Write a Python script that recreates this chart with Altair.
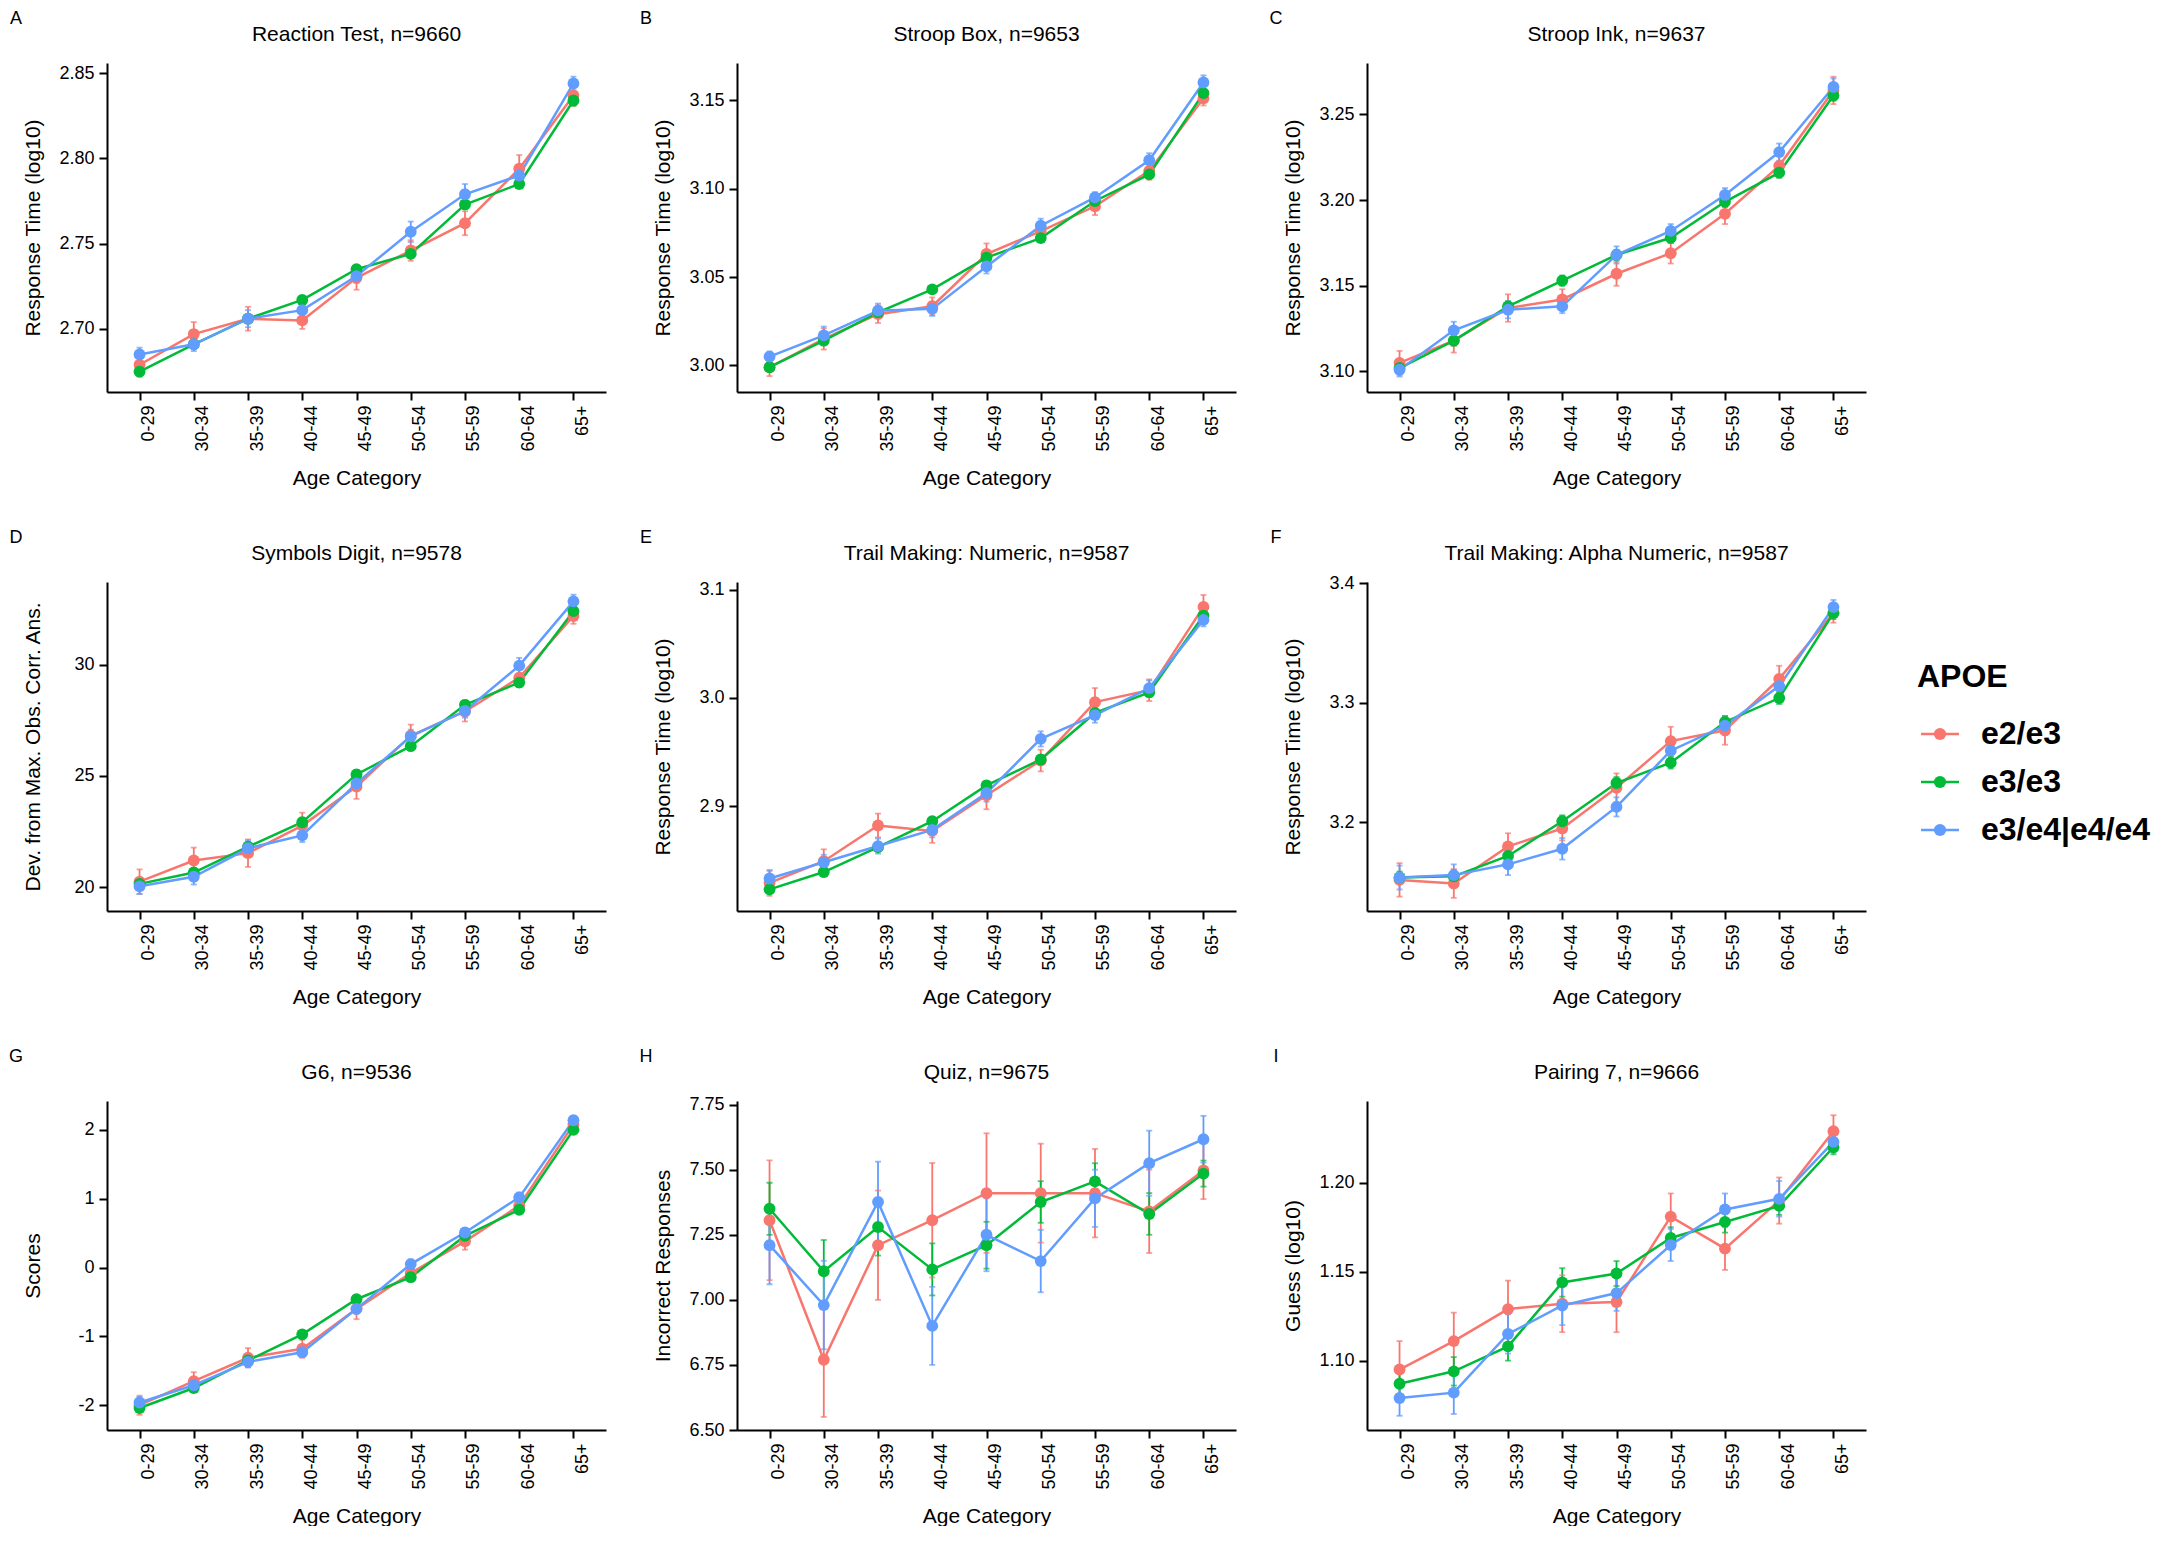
import altair as alt
import pandas as pd

FONT = "Liberation Sans"
AGES = ["0-29", "30-34", "35-39", "40-44", "45-49", "50-54", "55-59", "60-64", "65+"]
GROUPS = ["e2/e3", "e3/e3", "e3/e4|e4/e4"]
COLORS = ["#F8766D", "#00BA38", "#619CFF"]
LEGEND_TITLE = "APOE"

LETTERS = ["A", "B", "C", "D", "E", "F", "G", "H", "I"]
TITLES = ["Reaction Test, n=9660", "Stroop Box, n=9653", "Stroop Ink, n=9637",
          "Symbols Digit, n=9578", "Trail Making: Numeric, n=9587",
          "Trail Making: Alpha Numeric, n=9587", "G6, n=9536", "Quiz, n=9675",
          "Pairing 7, n=9666"]
Y_TITLES = ["Response Time (log10)", "Response Time (log10)", "Response Time (log10)",
            "Dev. from Max. Obs. Corr. Ans.", "Response Time (log10)",
            "Response Time (log10)", "Scores", "Incorrect Responses", "Guess (log10)"]
Y_DOMAINS = [[2.663, 2.856], [2.985, 3.171], [3.088, 3.280],
             [18.93, 33.72], [2.803, 3.107], [3.126, 3.401],
             [-2.36, 2.42], [6.50, 7.764], [1.061, 1.246]]
Y_TICKS = [[2.70, 2.75, 2.80, 2.85], [3.00, 3.05, 3.10, 3.15], [3.10, 3.15, 3.20, 3.25],
           [20, 25, 30], [2.9, 3.0, 3.1], [3.2, 3.3, 3.4],
           [-2, -1, 0, 1, 2], [6.50, 6.75, 7.00, 7.25, 7.50, 7.75], [1.10, 1.15, 1.20]]
Y_FORMATS = [".2f", ".2f", ".2f", "d", ".1f", ".1f", "d", ".2f", ".2f"]

# means per group: [e2/e3, e3/e3, e3/e4|e4/e4]
A_MEANS = [[2.679, 2.697, 2.706, 2.705, 2.730, 2.746, 2.762, 2.794, 2.837],
           [2.675, 2.691, 2.706, 2.717, 2.735, 2.744, 2.773, 2.785, 2.834],
           [2.685, 2.691, 2.706, 2.711, 2.731, 2.757, 2.779, 2.790, 2.844]]
A_SES = [[0.006, 0.007, 0.007, 0.005, 0.007, 0.006, 0.007, 0.008, 0.006],
         [0.003, 0.002, 0.002, 0.002, 0.002, 0.002, 0.002, 0.002, 0.003],
         [0.004, 0.004, 0.005, 0.004, 0.004, 0.006, 0.006, 0.005, 0.004]]
B_MEANS = [[2.999, 3.015, 3.029, 3.0335, 3.063, 3.076, 3.090, 3.110, 3.151],
           [2.999, 3.014, 3.030, 3.043, 3.061, 3.072, 3.093, 3.108, 3.154],
           [3.005, 3.017, 3.031, 3.032, 3.056, 3.079, 3.095, 3.116, 3.160]]
B_SES = [[0.005, 0.006, 0.005, 0.005, 0.006, 0.005, 0.005, 0.005, 0.004],
         [0.002, 0.002, 0.002, 0.002, 0.002, 0.002, 0.002, 0.002, 0.002],
         [0.003, 0.005, 0.004, 0.004, 0.004, 0.004, 0.003, 0.004, 0.004]]
C_MEANS = [[3.105, 3.118, 3.137, 3.142, 3.157, 3.169, 3.192, 3.220, 3.264],
           [3.102, 3.118, 3.138, 3.153, 3.168, 3.178, 3.199, 3.216, 3.261],
           [3.101, 3.124, 3.136, 3.138, 3.168, 3.182, 3.203, 3.228, 3.266]]
C_SES = [[0.007, 0.007, 0.008, 0.006, 0.007, 0.006, 0.006, 0.006, 0.008],
         [0.003, 0.003, 0.003, 0.003, 0.003, 0.003, 0.003, 0.003, 0.003],
         [0.004, 0.005, 0.005, 0.004, 0.005, 0.004, 0.004, 0.005, 0.005]]
D_MEANS = [[20.25, 21.20, 21.53, 22.77, 24.52, 26.81, 27.90, 29.42, 32.19],
           [20.15, 20.66, 21.82, 22.92, 25.07, 26.34, 28.20, 29.20, 32.41],
           [20.04, 20.47, 21.75, 22.33, 24.66, 26.78, 27.92, 29.96, 32.85]]
D_SES = [[0.55, 0.58, 0.62, 0.58, 0.55, 0.50, 0.45, 0.40, 0.35],
         [0.20, 0.20, 0.20, 0.20, 0.20, 0.20, 0.20, 0.20, 0.20],
         [0.35, 0.35, 0.35, 0.30, 0.30, 0.30, 0.30, 0.35, 0.30]]
E_MEANS = [[2.829, 2.849, 2.882, 2.877, 2.910, 2.942, 2.996, 3.007, 3.084],
           [2.823, 2.839, 2.862, 2.886, 2.919, 2.943, 2.986, 3.005, 3.076],
           [2.833, 2.848, 2.863, 2.878, 2.912, 2.962, 2.984, 3.009, 3.072]]
E_SES = [[0.012, 0.011, 0.011, 0.011, 0.013, 0.010, 0.013, 0.010, 0.011],
         [0.004, 0.004, 0.004, 0.004, 0.004, 0.004, 0.004, 0.004, 0.004],
         [0.007, 0.007, 0.007, 0.007, 0.008, 0.007, 0.007, 0.007, 0.006]]
F_MEANS = [[3.152, 3.149, 3.180, 3.195, 3.229, 3.268, 3.277, 3.320, 3.375],
           [3.154, 3.155, 3.172, 3.201, 3.233, 3.250, 3.284, 3.304, 3.375],
           [3.154, 3.156, 3.165, 3.178, 3.213, 3.260, 3.281, 3.314, 3.380]]
F_SES = [[0.014, 0.012, 0.011, 0.010, 0.012, 0.012, 0.012, 0.011, 0.008],
         [0.005, 0.005, 0.005, 0.005, 0.005, 0.005, 0.005, 0.005, 0.005],
         [0.010, 0.009, 0.009, 0.009, 0.008, 0.008, 0.008, 0.007, 0.006]]
G_MEANS = [[-2.00, -1.65, -1.31, -1.18, -0.60, -0.08, 0.38, 0.90, 2.08],
           [-2.04, -1.75, -1.35, -0.97, -0.46, -0.14, 0.46, 0.84, 2.00],
           [-1.96, -1.71, -1.37, -1.23, -0.60, 0.05, 0.51, 1.02, 2.14]]
G_SES = [[0.14, 0.13, 0.14, 0.13, 0.15, 0.12, 0.12, 0.10, 0.08],
         [0.04, 0.04, 0.04, 0.04, 0.04, 0.04, 0.04, 0.04, 0.04],
         [0.08, 0.08, 0.08, 0.07, 0.07, 0.07, 0.06, 0.07, 0.06]]
H_MEANS = [[7.306, 6.770, 7.210, 7.306, 7.410, 7.410, 7.410, 7.340, 7.497],
           [7.350, 7.110, 7.280, 7.117, 7.210, 7.376, 7.455, 7.330, 7.485],
           [7.210, 6.980, 7.376, 6.900, 7.250, 7.149, 7.390, 7.525, 7.617]]
H_SES = [[0.23, 0.22, 0.21, 0.22, 0.23, 0.19, 0.17, 0.16, 0.11],
         [0.10, 0.12, 0.11, 0.10, 0.09, 0.08, 0.07, 0.08, 0.05],
         [0.15, 0.17, 0.155, 0.15, 0.14, 0.12, 0.11, 0.125, 0.09]]
I_MEANS = [[1.095, 1.111, 1.129, 1.132, 1.133, 1.181, 1.163, 1.190, 1.229],
           [1.087, 1.094, 1.108, 1.144, 1.149, 1.169, 1.178, 1.187, 1.220],
           [1.079, 1.082, 1.115, 1.131, 1.138, 1.165, 1.185, 1.191, 1.223]]
I_SES = [[0.016, 0.016, 0.016, 0.016, 0.017, 0.013, 0.012, 0.013, 0.009],
         [0.006, 0.008, 0.008, 0.008, 0.007, 0.006, 0.006, 0.005, 0.004],
         [0.010, 0.012, 0.011, 0.011, 0.010, 0.009, 0.009, 0.010, 0.006]]

ALL_MEANS = [A_MEANS, B_MEANS, C_MEANS, D_MEANS, E_MEANS, F_MEANS, G_MEANS, H_MEANS, I_MEANS]
ALL_SES = [A_SES, B_SES, C_SES, D_SES, E_SES, F_SES, G_SES, H_SES, I_SES]

PW, PH = 499, 329
LEG_W, LEG_H, LEG_STEP, LEG_TOP = 236, 1400, 48, 671

COLOR_SCALE = alt.Scale(domain=GROUPS, range=COLORS)


def make_df(means, ses):
    rows = []
    for g, ml, sl in zip(GROUPS, means, ses):
        for a, m, s in zip(AGES, ml, sl):
            rows.append({"age": a, "grp": g, "mean": m, "lo": m - s, "hi": m + s})
    return pd.DataFrame(rows)


def make_panel(i):
    df = make_df(ALL_MEANS[i], ALL_SES[i])
    xax = alt.Axis(title="Age Category", labelAngle=270, labelAlign="right",
                   labelBaseline="top", titleY=75, titleBaseline="top")
    x = alt.X("age:N", sort=AGES, scale=alt.Scale(type="point", padding=0.6), axis=xax)
    ysc = alt.Scale(domain=Y_DOMAINS[i], nice=False, zero=False)
    yax_kw = dict(title=Y_TITLES[i], values=Y_TICKS[i], format=Y_FORMATS[i],
                  titleX=-64, titleY=PH / 2, titleAngle=270, titleBaseline="bottom",
                  titleAlign="center")
    if Y_FORMATS[i] == "d":
        yax_kw["labelExpr"] = "replace(datum.label, '\u2212', '-')"
    yax = alt.Axis(**yax_kw)
    col = alt.Color("grp:N", scale=COLOR_SCALE, legend=None)

    base = alt.Chart(df)
    rules = base.mark_rule(strokeWidth=1.8).encode(
        x=x, y=alt.Y("lo:Q", scale=ysc, axis=yax), y2="hi:Q", color=col)
    cap_lo = base.mark_tick(size=6, thickness=1.8).encode(
        x=x, y=alt.Y("lo:Q", scale=ysc, axis=yax), color=col)
    cap_hi = base.mark_tick(size=6, thickness=1.8).encode(
        x=x, y=alt.Y("hi:Q", scale=ysc, axis=yax), color=col)
    line = base.mark_line(strokeWidth=2.5).encode(
        x=x, y=alt.Y("mean:Q", scale=ysc, axis=yax), color=col)
    pts = base.mark_point(filled=True, size=140, opacity=1).encode(
        x=x, y=alt.Y("mean:Q", scale=ysc, axis=yax), color=col)
    letter = alt.Chart(pd.DataFrame({"t": [LETTERS[i]]})).mark_text(
        fontSize=18, font=FONT, align="center", baseline="middle", color="black"
    ).encode(text="t:N", x=alt.value(-91), y=alt.value(-44))
    name = alt.Chart(pd.DataFrame({"t": [TITLES[i]]})).mark_text(
        fontSize=21, font=FONT, align="center", baseline="middle", color="black"
    ).encode(text="t:N", x=alt.value(PW / 2), y=alt.value(-28.5))
    return alt.layer(rules, cap_lo, cap_hi, line, pts, letter, name).properties(
        width=PW, height=PH)


panels = [make_panel(i) for i in range(9)]
grid = alt.concat(*panels, columns=3, spacing={"row": 41, "column": 33})

# legend drawn from the group list through a point scale
leg_df = pd.DataFrame({"grp": GROUPS})
ly = alt.Y("grp:N", sort=GROUPS, axis=None,
           scale=alt.Scale(type="point", domain=GROUPS, padding=0,
                           range=[LEG_TOP, LEG_TOP + 2 * LEG_STEP]))
lcol = alt.Color("grp:N", scale=COLOR_SCALE, legend=None)
leg_base = alt.Chart(leg_df)
leg_line = leg_base.mark_rule(strokeWidth=2.5).encode(
    y=ly, x=alt.value(4), x2=alt.value(42), color=lcol)
leg_pt = leg_base.mark_point(filled=True, size=150, opacity=1).encode(
    y=ly, x=alt.value(23), color=lcol)
leg_txt = leg_base.mark_text(fontSize=32, fontWeight="bold", font=FONT, align="left",
                             baseline="middle", color="black").encode(
    y=ly, x=alt.value(64), text="grp:N")
leg_title = alt.Chart(pd.DataFrame({"t": [LEGEND_TITLE]})).mark_text(
    fontSize=32, fontWeight="bold", font=FONT, align="left", baseline="middle",
    color="black").encode(text="t:N", x=alt.value(0), y=alt.value(LEG_TOP - 57))
legend_chart = alt.layer(leg_line, leg_pt, leg_txt, leg_title).properties(
    width=LEG_W, height=LEG_H)

chart = alt.hconcat(grid, legend_chart, spacing=51).properties(
    padding={"left": 0, "top": 2, "right": 0, "bottom": 0},
    background="white",
).configure_view(stroke=None).configure_axis(
    grid=False, domainColor="black", domainWidth=2, tickColor="black", tickWidth=2,
    tickSize=8, labelColor="black", labelFont=FONT, labelFontSize=18, labelPadding=5,
    titleColor="black", titleFont=FONT, titleFontSize=21, titleFontWeight="normal",
)

chart.save("out.html", embed_options={"renderer": "svg", "actions": False})
